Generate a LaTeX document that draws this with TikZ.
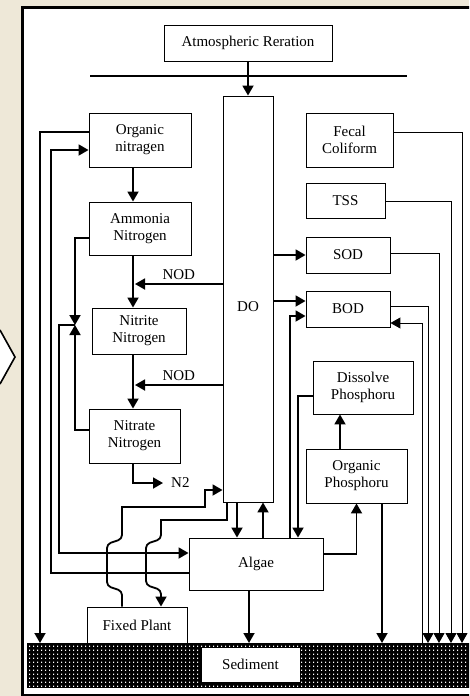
\documentclass[tikz,border=0pt]{standalone}
\usepackage{fontspec}
\setmainfont{Liberation Serif}
\usepackage{tikz}
\usetikzlibrary{arrows.meta, patterns}
\definecolor{paper}{RGB}{238,232,216}
\pgfdeclarepatternformonly{seddots}{\pgfpointorigin}{\pgfpoint{4pt}{4.3pt}}{\pgfpoint{4pt}{4.3pt}}{%
  \pgfpathrectangle{\pgfpoint{1.3pt}{1.4pt}}{\pgfpoint{1.4pt}{1.4pt}}\pgfusepath{fill}}
\tikzstyle{box} = [rectangle, draw=black, fill=white, line width=0.9pt, align=center, inner sep=2pt]
\tikzstyle{arrow} = [line width=1.8pt, ->, >={Triangle[length=10pt,width=11pt]}]
\tikzstyle{thinarrow} = [line width=1pt, ->, >={Triangle[length=10pt,width=11pt]}]
\tikzstyle{wire} = [line width=1.8pt]

\begin{document}
\begin{tikzpicture}[x=1pt, y=-1pt, font=\fontsize{15}{17}\selectfont]
  \useasboundingbox (0,0) rectangle (469,696);
  \clip (0,0) rectangle (469,696);
  % backdrop and frame
  \fill[paper] (0,0) rectangle (469,696);
  \fill[white] (0,330) -- (15,357) -- (0,384) -- cycle;
  \draw[line width=1.6pt] (0,330) -- (15,357) -- (0,384);
  \draw[line width=3pt, fill=white] (22.5,7.5) rectangle (485,695.5);
  \node (bed) [fill=black, postaction={pattern=seddots, pattern color=white}, minimum width=460pt, minimum height=45pt, inner sep=0pt, anchor=north west] at (27,643) {};

  \node (atm) [box, minimum width=168pt, minimum height=36pt] at (248,43) {Atmospheric Reration};
  \node (do) [box, minimum width=50pt, minimum height=406pt, label={[yshift=-8pt]center:DO}] at (248,299) {};
  \node (orgn) [box, minimum width=102pt, minimum height=54pt] at (140,140) {Organic\\nitragen};
  \node (amm) [box, minimum width=102pt, minimum height=53pt] at (140,228.5) {Ammonia\\Nitrogen};
  \node (nitrite) [box, minimum width=94pt, minimum height=46pt] at (139,331) {Nitrite\\Nitrogen};
  \node (nitrate) [box, minimum width=91pt, minimum height=54pt] at (134.5,436) {Nitrate\\Nitrogen};
  \node (fecal) [box, minimum width=87pt, minimum height=54pt] at (349.5,140) {Fecal\\Coliform};
  \node (tss) [box, minimum width=79pt, minimum height=35pt] at (345.5,200.5) {TSS};
  \node (sod) [box, minimum width=84pt, minimum height=36pt] at (348,255) {SOD};
  \node (bod) [box, minimum width=84pt, minimum height=36pt] at (348,309) {BOD};
  \node (dissp) [box, minimum width=100pt, minimum height=53pt] at (363,387.5) {Dissolve\\Phosphoru};
  \node (orgp) [box, minimum width=101pt, minimum height=54pt] at (356.5,476) {Organic\\Phosphoru};
  \node (algae) [box, minimum width=134pt, minimum height=52pt] at (256,564) {Algae};
  \node (fixed) [box, minimum width=100pt, minimum height=36pt] at (137,625) {Fixed Plant};
  \node (sed) [box, minimum width=99pt, minimum height=35pt] at (250.5,664.5) {Sediment};
  \node (n2) [anchor=west, inner sep=8pt] at (163,483) {N2};

  % surface and reaeration
  \draw [wire] (90,76) -- (407,76);
  \draw [arrow] (atm) -- (do);

  % nitrogen chain
  \coordinate (nx) at (133,0);
  \coordinate (nod1) at (135,284);
  \coordinate (nod2) at (135,385);
  \coordinate (jn) at (75,325);
  \draw [arrow] (orgn.south -| nx) -- (amm.north -| nx);
  \draw [arrow] (amm.south -| nx) -- (nitrite.north -| nx);
  \draw [arrow] (nitrite.south -| nx) -- (nitrate.north -| nx);
  \draw [arrow] (do.west |- nod1) -- node[above] {NOD} (nod1);
  \draw [arrow] (do.west |- nod2) -- node[above] {NOD} (nod2);
  \draw [arrow] (nitrate.south -| nx) |- (n2.west);
  \draw [arrow] (amm.west |- 0,238) -| (jn);
  \draw [arrow] (nitrate.west |- 0,430) -| (jn);
  \draw [arrow] (jn) -| (59,553) -- (algae.west |- 0,553);
  \draw [arrow] (orgn.west |- 0,132) -| (bed.north -| 40,0);
  \draw [arrow] (algae.west |- 0,573) -| (51,150) -- (orgn.west |- 0,150);

  % DO, algae and phosphorus
  \draw [arrow] (do.east |- sod) -- (sod);
  \draw [arrow] (do.east |- 0,301) -- (bod.west |- 0,301);
  \draw [arrow] (algae.north -| 290,0) |- (bod.west |- 0,316);
  \draw [arrow] (dissp.west |- 0,396) -| (algae.north -| 298,0);
  \draw [arrow] (orgp.north -| 340,0) -- (dissp.south -| 340,0);
  \draw [arrow] (algae.east |- 0,554) -| (orgp.south);
  \draw [arrow] (orgp.south -| 382,0) -- (bed.north -| 382,0);
  \draw [arrow] (algae.south -| 249,0) -- (bed.north -| 249,0);
  \draw [arrow] (do.south -| 237,0) -- (algae.north -| 237,0);
  \draw [arrow] (algae.north -| 263,0) -- (do.south -| 263,0);

  % fixed plant
  \draw [arrow] (fixed.north -| 122,0) [rounded corners=4pt] -- (122,591) -- (107,586) -- (107,544) -- (122,539) [sharp corners] -- (122,507) -| (205,490) -- (do.west |- 0,490);
  \draw [arrow] (do.south -| 227,0) -- (227,520) -- (161,520) [rounded corners=4pt] -- (161,539) -- (146,544) -- (146,585) -- (161,590) [sharp corners] -- (fixed.north -| 161,0);

  % to sediment
  \draw [thinarrow] (fecal.east |- 0,132) -| (bed.north -| 462,0);
  \draw [thinarrow] (tss.east |- 0,201) -| (bed.north -| 451,0);
  \draw [thinarrow] (sod.east |- 0,253) -| (bed.north -| 439,0);
  \draw [thinarrow] (bod.east |- 0,306) -| (bed.north -| 428,0);
  \draw [thinarrow] (bed.north -| 422,0) |- (bod.east |- 0,323);
\end{tikzpicture}
\end{document}
